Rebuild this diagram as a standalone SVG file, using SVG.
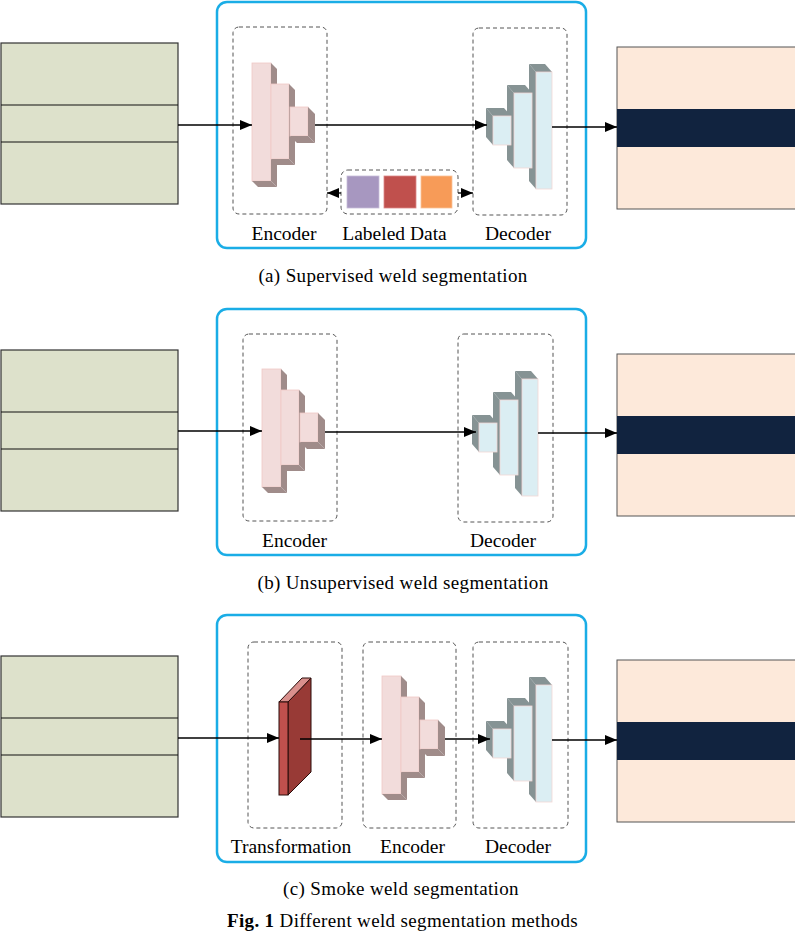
<svg xmlns="http://www.w3.org/2000/svg" xmlns:xlink="http://www.w3.org/1999/xlink" width="795" height="947" viewBox="0 0 795 947">
<style>
.panel{fill:#fff;stroke:#1AADE6;stroke-width:2.5}
.dash{fill:none;stroke:#555;stroke-width:1;stroke-dasharray:4,3}
.inimg{fill:#DDE1CB;stroke:#333;stroke-width:1.2}
.inline{stroke:#111;stroke-width:1.2}
.outimg{fill:#FDE9DA;stroke:#555;stroke-width:1}
.band{fill:#11233F}
.ef{fill:#F2DCDB;stroke:#F0C8C6;stroke-width:0.8}
.es{fill:#A08C8A}
.df{fill:#DBEEF3;stroke:#F2D6D4;stroke-width:0.8}
.ds{fill:#869394}
.conn{stroke:#000;stroke-width:1.3;fill:none}
.lbl{font-family:"Liberation Serif","Times New Roman",serif;font-size:19.5px;fill:#000;text-anchor:middle}
.cap{font-family:"Liberation Serif","Times New Roman",serif;font-size:19px;letter-spacing:0.35px;fill:#000;text-anchor:middle}
</style>
<defs>
<marker id="ah" markerUnits="userSpaceOnUse" markerWidth="13" markerHeight="10" refX="12" refY="5" orient="auto">
<path d="M0,0 L12,5 L0,10 z" fill="#000"/>
</marker>
<g id="enc">
<rect class="ef" x="252" y="63" width="19" height="118"/>
<polygon class="es" points="271,63 277,69 277,187 271,181"/>
<polygon class="es" points="252,181 271,181 277,187 258,187"/>
<rect class="ef" x="271" y="84" width="18" height="75"/>
<polygon class="es" points="289,84 295,90 295,165 289,159"/>
<polygon class="es" points="271,159 289,159 295,165 277,165"/>
<rect class="ef" x="290" y="107" width="18" height="29"/>
<polygon class="es" points="308,107 315,114 315,143 308,136"/>
<polygon class="es" points="290,136 308,136 315,143 297,143"/>
</g>
<g id="dec">
<polygon class="ds" points="529,64 536,72 536,189 529,181"/>
<polygon class="ds" points="529,64 545,64 552,72 536,72"/>
<rect class="df" x="536" y="72" width="16" height="117"/>
<polygon class="ds" points="507,85 514,93 514,168 507,160"/>
<polygon class="ds" points="507,85 525,85 532,93 514,93"/>
<rect class="df" x="514" y="93" width="18" height="75"/>
<polygon class="ds" points="486,108 493,116 493,145 486,137"/>
<polygon class="ds" points="486,108 504,108 511,116 493,116"/>
<rect class="df" x="493" y="116" width="18" height="29"/>
</g>
</defs>
<rect width="795" height="947" fill="#fff"/>

<!-- Panel (a) -->
<g id="panel-a">
<rect class="panel" x="217" y="2" width="369" height="246" rx="10"/>
</g>
<g id="input-a">
<rect class="inimg" x="1" y="43" width="177" height="161"/>
<line class="inline" x1="1" y1="105" x2="178" y2="105"/>
<line class="inline" x1="1" y1="142" x2="178" y2="142"/>
</g>
<g id="encoder-a">
<rect class="dash" x="233" y="27" width="94" height="187" rx="6"/>
<use xlink:href="#enc"/>
<text class="lbl" x="284" y="240">Encoder</text>
</g>
<g id="labeled-data-a">
<rect class="dash" x="341" y="170" width="117" height="44" rx="7"/>
<rect x="347" y="176" width="32" height="32" fill="#A797C0" stroke="#C9BFDA" stroke-width="0.8"/>
<rect x="384" y="176" width="32" height="32" fill="#C0504D" stroke="#D88" stroke-width="0.8"/>
<rect x="421" y="176" width="31" height="32" fill="#F79B58" stroke="#F9C29A" stroke-width="0.8"/>
<text class="lbl" x="394.5" y="240">Labeled Data</text>
</g>
<g id="decoder-a">
<rect class="dash" x="473" y="28" width="94" height="187" rx="6"/>
<use xlink:href="#dec"/>
<text class="lbl" x="518" y="240">Decoder</text>
</g>
<g id="output-a">
<rect class="outimg" x="617" y="47" width="180" height="162"/>
<rect class="band" x="617" y="109" width="180" height="38"/>
</g>
<text class="cap" x="393" y="282">(a) Supervised weld segmentation</text>

<!-- Panel (b) -->
<g id="panel-b">
<rect class="panel" x="217" y="309" width="369" height="246" rx="10"/>
</g>
<g id="input-b">
<rect class="inimg" x="1" y="350" width="177" height="161"/>
<line class="inline" x1="1" y1="412" x2="178" y2="412"/>
<line class="inline" x1="1" y1="449" x2="178" y2="449"/>
</g>
<g id="encoder-b">
<rect class="dash" x="243" y="334" width="94" height="187" rx="6"/>
<use xlink:href="#enc" transform="translate(10,306)"/>
<text class="lbl" x="294.5" y="547">Encoder</text>
</g>
<g id="decoder-b">
<rect class="dash" x="458" y="334" width="95" height="188" rx="6"/>
<use xlink:href="#dec" transform="translate(-14,307)"/>
<text class="lbl" x="503" y="547">Decoder</text>
</g>
<g id="output-b">
<rect class="outimg" x="617" y="354" width="180" height="162"/>
<rect class="band" x="617" y="416" width="180" height="38"/>
</g>
<text class="cap" x="403" y="589">(b) Unsupervised weld segmentation</text>

<!-- Panel (c) -->
<g id="panel-c">
<rect class="panel" x="217" y="615" width="369" height="247" rx="10"/>
</g>
<g id="input-c">
<rect class="inimg" x="1" y="656" width="177" height="161"/>
<line class="inline" x1="1" y1="718" x2="178" y2="718"/>
<line class="inline" x1="1" y1="755" x2="178" y2="755"/>
</g>
<g id="transformation-c">
<rect class="dash" x="248" y="642" width="94" height="186" rx="6"/>
<polygon points="288,702 311,678 311,772 288,795" fill="#983A36" stroke="#2a0c0a" stroke-width="1"/>
<polygon points="279,702 302,678 311,678 288,702" fill="#D9908D" stroke="#2a0c0a" stroke-width="1"/>
<rect x="279" y="702" width="9" height="93" fill="#C0504D" stroke="#2a0c0a" stroke-width="1"/>
<text class="lbl" x="291" y="853">Transformation</text>
</g>
<g id="encoder-c">
<rect class="dash" x="363" y="642" width="93" height="186" rx="6"/>
<use xlink:href="#enc" transform="translate(130,613)"/>
<text class="lbl" x="412.5" y="853">Encoder</text>
</g>
<g id="decoder-c">
<rect class="dash" x="473" y="642" width="95" height="186" rx="6"/>
<use xlink:href="#dec" transform="translate(0,613)"/>
<text class="lbl" x="518" y="853">Decoder</text>
</g>
<g id="output-c">
<rect class="outimg" x="617" y="660" width="180" height="162"/>
<rect class="band" x="617" y="722" width="180" height="38"/>
</g>
<text class="cap" x="401" y="895">(c) Smoke weld segmentation</text>
<text class="cap" x="402.5" y="927"><tspan font-weight="bold">Fig. 1</tspan> Different weld segmentation methods</text>

<!-- Connectors -->
<g id="connectors">
<line class="conn" x1="178" y1="125" x2="252" y2="125" marker-end="url(#ah)"/>
<line class="conn" x1="315" y1="125" x2="487" y2="125" marker-end="url(#ah)"/>
<line class="conn" x1="552" y1="127" x2="617" y2="127" marker-end="url(#ah)"/>
<line class="conn" x1="341" y1="193" x2="327" y2="193" marker-end="url(#ah)"/>
<line class="conn" x1="458" y1="193" x2="473" y2="193" marker-end="url(#ah)"/>

<line class="conn" x1="178" y1="431" x2="262" y2="431" marker-end="url(#ah)"/>
<line class="conn" x1="325" y1="432" x2="476" y2="432" marker-end="url(#ah)"/>
<line class="conn" x1="538" y1="433" x2="617" y2="433" marker-end="url(#ah)"/>

<line class="conn" x1="178" y1="738" x2="279" y2="738" marker-end="url(#ah)"/>
<line class="conn" x1="300" y1="739" x2="382" y2="739" marker-end="url(#ah)"/>
<line class="conn" x1="445" y1="739" x2="490" y2="739" marker-end="url(#ah)"/>
<line class="conn" x1="552" y1="740" x2="617" y2="740" marker-end="url(#ah)"/>
</g>
</svg>
